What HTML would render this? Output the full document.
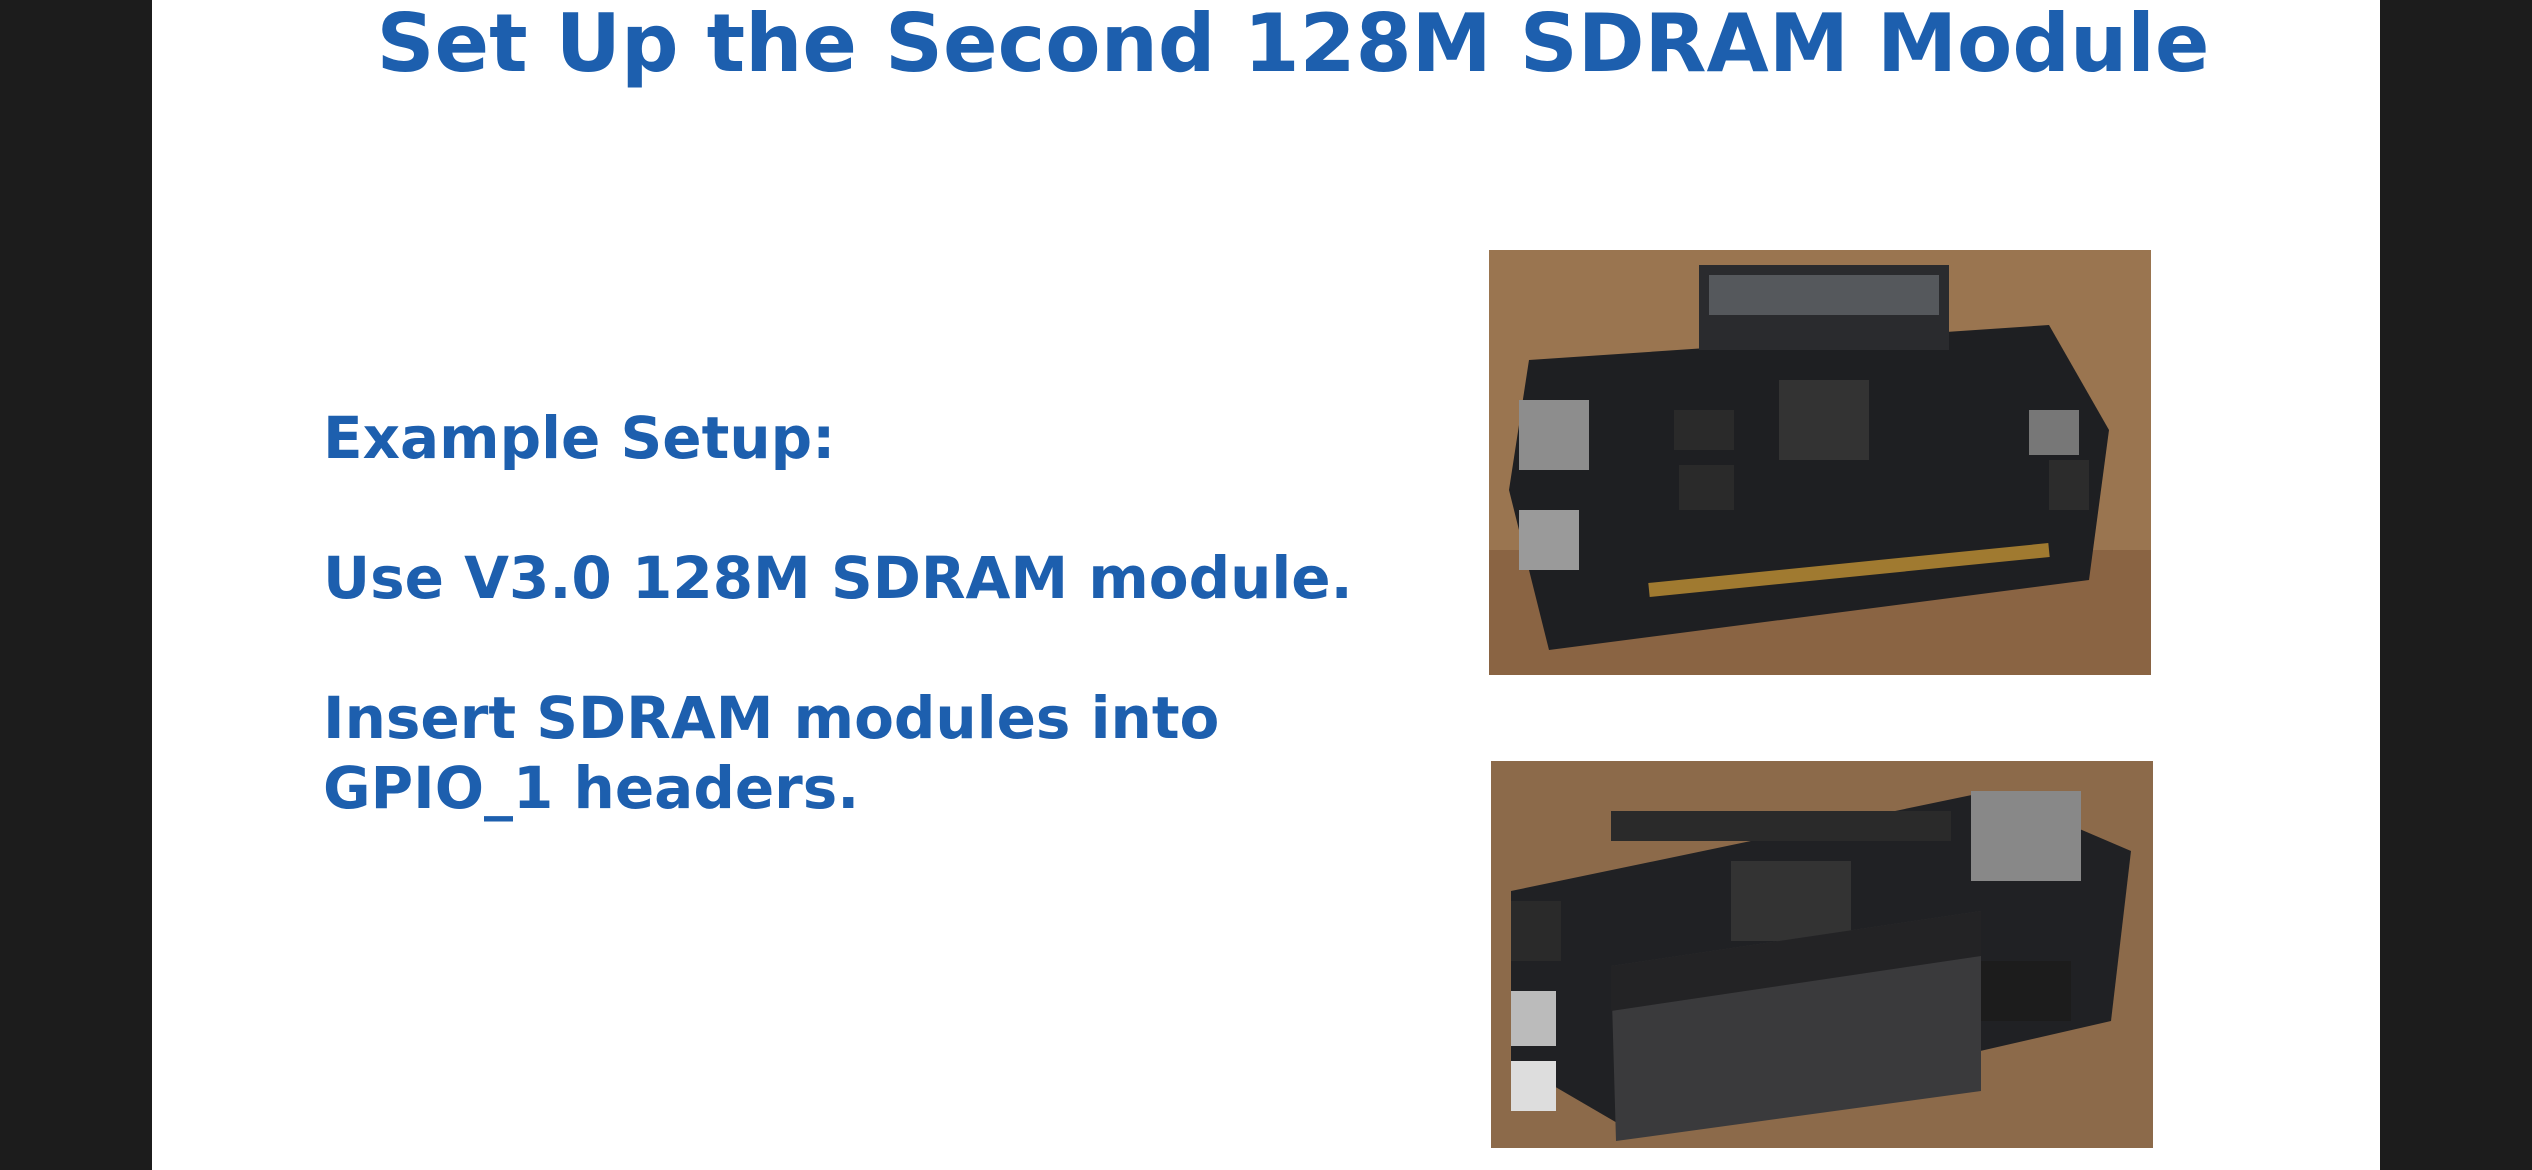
<!DOCTYPE html>
<html><head><meta charset="utf-8"><style>
html,body{margin:0;padding:0;}
body{width:2532px;height:1170px;background:#1c1c1c;position:relative;overflow:hidden;font-family:"DejaVu Sans","Liberation Sans",sans-serif;}
.slide{position:absolute;left:152px;top:0;width:2228px;height:1170px;background:#fff;}
.t{position:absolute;color:#1d5fae;font-weight:bold;white-space:nowrap;}
h1{position:absolute;left:27px;width:2228px;top:-4px;margin:0;text-align:center;color:#1d5fae;font-size:80.5px;font-weight:bold;white-space:nowrap;}
.b{font-size:58px;left:171px;}
</style></head><body>
<div class="slide">
<h1>Set Up the Second 128M SDRAM Module</h1>
<div class="t b" style="top:404px">Example Setup:</div>
<div class="t b" style="top:544px">Use V3.0 128M SDRAM module.</div>
<div class="t b" style="top:684px">Insert SDRAM modules into</div>
<div class="t b" style="top:754px">GPIO_1 headers.</div>
</div>
<svg style="position:absolute;left:1489px;top:250px" width="662" height="425" viewBox="0 0 662 425">
<rect width="662" height="425" fill="#9a7550"/>
<rect y="300" width="662" height="125" fill="#8a6443"/>
<polygon points="40,110 560,75 620,180 600,330 60,400 20,240" fill="#1e1f22"/>
<rect x="210" y="15" width="250" height="85" fill="#2a2b2e"/>
<rect x="220" y="25" width="230" height="40" fill="#55585c"/>
<rect x="30" y="150" width="70" height="70" fill="#8d8d8d"/>
<rect x="30" y="260" width="60" height="60" fill="#9a9a9a"/>
<rect x="290" y="130" width="90" height="80" fill="#333"/>
<rect x="185" y="160" width="60" height="40" fill="#2a2a2a"/>
<rect x="190" y="215" width="55" height="45" fill="#2a2a2a"/>
<rect x="540" y="160" width="50" height="45" fill="#777"/>
<rect x="560" y="210" width="40" height="50" fill="#2c2c2c"/>
<line x1="160" y1="340" x2="560" y2="300" stroke="#a07a30" stroke-width="14"/>
</svg>
<svg style="position:absolute;left:1491px;top:761px" width="662" height="387" viewBox="0 0 662 387">
<rect width="662" height="387" fill="#8c6a4a"/>
<polygon points="20,130 500,30 640,90 620,260 140,370 20,300" fill="#202124"/>
<rect x="120" y="50" width="340" height="30" fill="#2a2a2a"/>
<rect x="240" y="100" width="120" height="80" fill="#333"/>
<rect x="480" y="30" width="110" height="90" fill="#888"/>
<rect x="20" y="140" width="50" height="60" fill="#2a2a2a"/>
<rect x="20" y="230" width="45" height="55" fill="#bbb"/>
<rect x="20" y="300" width="45" height="50" fill="#ddd"/>
<polygon points="120,205 490,150 490,330 125,380" fill="#3a3a3c"/>
<polygon points="120,205 490,150 490,195 120,250" fill="#232325"/>
<rect x="490" y="200" width="90" height="60" fill="#1c1c1c"/>
</svg>
</body></html>
